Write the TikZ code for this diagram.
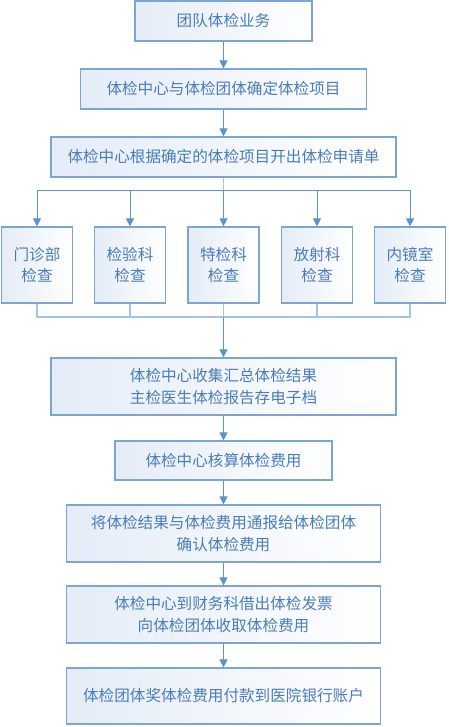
\documentclass[tikz,border=0pt]{standalone}
\usepackage{fontspec}
\setmainfont{Noto Sans CJK SC}
\usetikzlibrary{positioning,arrows.meta}

\definecolor{boxline}{HTML}{7DA5D2}
\definecolor{boxtext}{HTML}{4A7DB8}
\definecolor{boxfill}{HTML}{E4ECF7}
\definecolor{arrowline}{HTML}{5B93CF}
\definecolor{busline}{HTML}{A3C6E8}

\tikzset{
  stepbox/.style={draw=boxline, line width=1.2pt, left color=boxfill, right color=white,
    text=boxtext, align=center, inner sep=0pt, font=\fontsize{15.6}{21.5}\selectfont},
  flow/.style={draw=arrowline, line width=1pt, -{Triangle[length=8pt,width=8pt]}},
  bus/.style={draw=busline, line width=1.4pt}
}

\begin{document}
\begin{tikzpicture}[x=1pt, y=-1pt]
    \useasboundingbox (0,0) rectangle (448,727);

    \node[stepbox, minimum width=177pt, minimum height=40pt] at (223.5,21) (start) {团队体检业务};
    \node[stepbox, minimum width=286pt, minimum height=40pt] at (223.5,89) (confirm) {体检中心与体检团体确定体检项目};
    \node[stepbox, minimum width=345pt, minimum height=40pt] at (223.5,157) (apply) {体检中心根据确定的体检项目开出体检申请单};

    \node[stepbox, minimum width=71pt, minimum height=76pt] at (37,265) (clinic) {门诊部\\检查};
    \node[stepbox, minimum width=71pt, minimum height=76pt] at (130,265) (lab) {检验科\\检查};
    \node[stepbox, minimum width=71pt, minimum height=76pt] at (223.5,265) (special) {特检科\\检查};
    \node[stepbox, minimum width=71pt, minimum height=76pt] at (317,265) (radio) {放射科\\检查};
    \node[stepbox, minimum width=71pt, minimum height=76pt] at (410,265) (endo) {内镜室\\检查};

    \node[stepbox, minimum width=345pt, minimum height=57pt] at (223.5,386.5) (collect) {体检中心收集汇总体检结果\\主检医生体检报告存电子档};
    \node[stepbox, minimum width=217pt, minimum height=39pt] at (223.5,460.5) (cost) {体检中心核算体检费用};
    \node[stepbox, minimum width=314pt, minimum height=57pt] at (223.5,533.5) (notify) {将体检结果与体检费用通报给体检团体\\确认体检费用};
    \node[stepbox, minimum width=314pt, minimum height=57pt] at (223.5,614.5) (invoice) {体检中心到财务科借出体检发票\\向体检团体收取体检费用};
    \node[stepbox, minimum width=314pt, minimum height=56pt] at (223.5,696) (pay) {体检团体奖体检费用付款到医院银行账户};

    \coordinate (split) at (223.5,191);
    \coordinate (join) at (223.5,317);

    % main chain
    \draw[flow] (start) -- (confirm);
    \draw[flow] (confirm) -- (apply);

    % branches
    \draw[bus] (apply.south) -- (split);
    \foreach \dept in {clinic,lab,special,radio,endo}
        \draw[flow] (split) -| (\dept.north);
    \foreach \dept in {clinic,lab,special,radio,endo}
        \draw[bus] (\dept.south) |- (join);
    \draw[flow] (join) -- (collect);

    \draw[flow] (collect) -- (cost);
    \draw[flow] (cost) -- (notify);
    \draw[flow] (notify) -- (invoice);
    \draw[flow] (invoice) -- (pay);
\end{tikzpicture}
\end{document}
